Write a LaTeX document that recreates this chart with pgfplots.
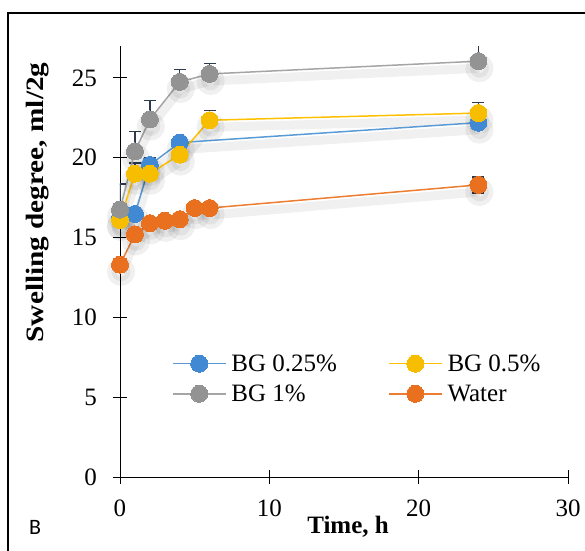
\documentclass[border=0pt]{standalone}
\usepackage{fontspec}
\setmainfont{Liberation Serif}
\newfontfamily\calibri{Carlito}
\usepackage{pgfplots}
\pgfplotsset{compat=1.18}
\definecolor{cblue}{HTML}{5B9BD5}
\definecolor{mblue}{HTML}{4189D2}
\definecolor{cyel}{HTML}{FFC000}
\definecolor{myel}{HTML}{F7BE00}
\definecolor{cgray}{HTML}{A5A5A5}
\definecolor{mgray}{HTML}{939393}
\definecolor{corg}{HTML}{ED7D31}
\definecolor{morg}{HTML}{E9701F}
\definecolor{errc}{HTML}{2E3B4E}
\pgfplotstableread{
x y e
0 16.2 0.0
1 16.48 0.0
2 19.55 0.48
4 20.95 0.2
24 22.2 0.4
}\blue
\pgfplotstableread{
x y e
0 16.1 0.0
1 19.0 0.67
2 19.0 0.0
4 20.2 0.0
6 22.35 0.6
24 22.8 0.67
}\yel
\pgfplotstableread{
x y e
0 16.75 1.6
1 20.4 1.25
2 22.4 1.2
4 24.75 0.77
6 25.25 0.65
24 26.05 1.1
}\gry
\pgfplotstableread{
x y e
0 13.3 0.0
1 15.2 0.0
2 15.9 0.0
3 16.05 0.0
4 16.15 0.0
5 16.85 0.0
6 16.85 0.0
24 18.3 0.5
}\org
\begin{document}
\begin{tikzpicture}
\useasboundingbox (-120pt,-73pt) rectangle (465pt,477pt);
\draw[line width=1.6pt] (-112pt,-100pt) |- (520pt,464pt);
\begin{axis}[
  at={(0pt,0pt)}, anchor=south west,
  scale only axis, width=448pt, height=431pt,
  xmin=0, xmax=30, ymin=0, ymax=27,
  axis lines*=left,
  axis line style={line width=0.9pt},
  xtick={0,10,20,30}, ytick={0,5,10,15,20,25},
  tick align=center, major tick length=14pt,
  tick style={line width=0.9pt, black},
  /pgf/number format/assume math mode=true,
  ticklabel style={font=\fontsize{25}{30}\selectfont},
  yticklabel style={inner sep=0pt, xshift=-16pt},
  xticklabel style={inner sep=0pt, yshift=-16pt},
  xlabel={\textbf{Time, h}},
  xlabel style={font=\fontsize{25}{30}\selectfont, at={(axis description cs:0.509,-0.116)}, anchor=center},
  ylabel={\scalebox{1.17}[1]{\textbf{Swelling degree, ml/2g}}},
  ylabel style={font=\fontsize{25}{30}\selectfont, at={(axis description cs:-0.183,0.637)}, anchor=center, rotate=0},
  legend columns=2,
  legend style={draw=none, fill=none, inner sep=0pt, outer sep=0pt,
    at={(axis description cs:0.116,0.228)}, anchor=west,
    font=\fontsize{25}{30}\selectfont,
    nodes={inner sep=0pt, outer sep=0pt},
    row sep=12pt,
    /tikz/every odd column/.append style={column sep=5pt},
    /tikz/every even column/.append style={column sep=51pt}},
  legend cell align=left,
  legend image code/.code={\draw[mark repeat=2,mark phase=2,#1, line width=1.5pt] plot coordinates {(0pt,0pt) (26.5pt,0pt) (53pt,0pt)};},
  every axis plot/.append style={line width=1.5pt},
]
% shadows
\pgfplotsset{shadow/.style={forget plot, black, opacity=0.06, line width=9pt, yshift=-7pt, xshift=1pt, mark=*, mark size=9.5pt, mark options={draw=none}}}
\addplot[shadow] table[x=x,y=y] {\blue};
\addplot[shadow] table[x=x,y=y] {\yel};
\addplot[shadow] table[x=x,y=y] {\gry};
\addplot[shadow] table[x=x,y=y] {\org};
% series
\addplot[cblue, mark=*, mark size=8.5pt, mark options={fill=mblue, draw=mblue, line width=0pt},
  error bars/.cd, y dir=plus, y explicit, error bar style={errc, line width=1.5pt},
  error mark options={errc, rotate=90, mark size=6pt, line width=1.5pt}]
  table[x=x,y=y,y error=e] {\blue};
\addlegendentry{BG 0.25\%}
\addplot[cyel, mark=*, mark size=8.5pt, mark options={fill=myel, draw=myel, line width=0pt},
  error bars/.cd, y dir=plus, y explicit, error bar style={errc, line width=1.5pt},
  error mark options={errc, rotate=90, mark size=6pt, line width=1.5pt}]
  table[x=x,y=y,y error=e] {\yel};
\addlegendentry{BG 0.5\%}
\addplot[cgray, mark=*, mark size=8.5pt, mark options={fill=mgray, draw=mgray, line width=0pt},
  error bars/.cd, y dir=plus, y explicit, error bar style={errc, line width=1.5pt},
  error mark options={errc, rotate=90, mark size=6pt, line width=1.5pt}]
  table[x=x,y=y,y error=e] {\gry};
\addlegendentry{BG 1\%}
\addplot[corg, mark=*, mark size=8.5pt, mark options={fill=morg, draw=morg, line width=0pt},
  error bars/.cd, y dir=both, y explicit, error bar style={errc, line width=1.5pt},
  error mark options={errc, rotate=90, mark size=6pt, line width=1.5pt}]
  table[x=x,y=y,y error=e] {\org};
\addlegendentry{Water}
\end{axis}
\node[font=\calibri\fontsize{22}{26}\selectfont] at (-85pt,-50pt) {B};
\end{tikzpicture}
\end{document}
